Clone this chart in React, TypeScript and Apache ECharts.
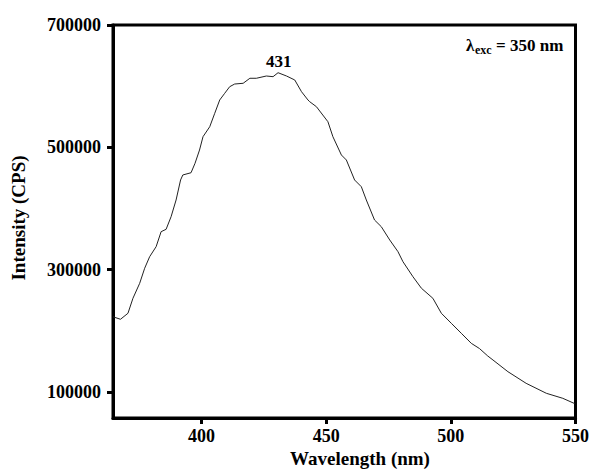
import React, { useEffect, useRef } from "react";
import * as echarts from "echarts";

const wavelengths = [
  364.5, 367.5, 370.5, 372.5, 375.2, 377.2, 379.2, 381.8, 383.8, 385.8, 387.8, 389.8,
  391.6, 392.5, 395.8, 397.4, 399.2, 400.6, 403.3, 405.3, 407.3, 409.3, 411.3, 413.3,
  416.7, 419.4, 422.0, 426.0, 428.7, 430.7, 434.1, 437.4, 440.1, 442.7, 443.4, 446.1,
  450.7, 452.7, 456.1, 458.1, 461.4, 464.1, 466.1, 469.4, 472.1, 475.5, 478.8, 480.8,
  484.8, 488.2, 492.8, 496.2, 500.2, 504.2, 508.2, 511.5, 514.8, 516.9, 522.9, 530.2,
  538.3, 544.9, 549.6,
];
const intensities = [
  223000, 218900, 228700, 253200, 277700, 302300, 321200, 337600, 362100, 366000, 386600, 413900,
  446600, 454800, 458500, 473900, 495600, 517400, 533700, 555600, 577400, 588300, 599100, 603500,
  604700, 612900, 612900, 616600, 615500, 622000, 616600, 610100, 591000, 577400, 574600, 566400,
  541900, 517400, 487500, 479300, 446600, 435600, 413900, 381200, 370300, 348500, 329400, 313000,
  288500, 269600, 253200, 228700, 212300, 196000, 179600, 171000, 158900, 152300, 133200, 114200,
  97900, 89700, 81200,
];
const xTicks = [400, 450, 500, 550];
const yTicks = [100000, 300000, 500000, 700000];
const peakLabel = "431";
const peakPoint = [431, 622000];

const FONT = "Liberation Serif";

export default function App() {
  const ref = useRef<HTMLDivElement>(null);
  useEffect(() => {
    if (!ref.current) return;
    const chart = echarts.init(ref.current, null, { renderer: "svg" });
    const data = wavelengths.map((w, i) => [w, intensities[i]]);
    chart.setOption({
      animation: false,
      backgroundColor: "#fff",
      grid: {
        left: 113,
        top: 25,
        right: 15,
        bottom: 51,
        show: true,
        borderColor: "#000",
        borderWidth: 3,
        backgroundColor: "transparent",
      },
      xAxis: {
        type: "value",
        min: 364.5,
        max: 550,
        axisLine: { show: true, lineStyle: { color: "#000", width: 3 } },
        axisTick: { show: true, customValues: xTicks, length: 6, lineStyle: { color: "#000", width: 3 } },
        axisLabel: {
          customValues: xTicks,
          formatter: (v: number) => String(v),
          margin: 9,
          fontFamily: FONT,
          fontWeight: "bold",
          fontSize: 18,
          color: "#000",
        },
        splitLine: { show: false },
      },
      yAxis: {
        type: "value",
        min: 57500,
        max: 700000,
        axisLine: { show: true, lineStyle: { color: "#000", width: 3 } },
        axisTick: { show: true, customValues: yTicks, length: 6, lineStyle: { color: "#000", width: 3 } },
        axisLabel: {
          customValues: yTicks,
          formatter: (v: number) => String(v),
          margin: 12,
          fontFamily: FONT,
          fontWeight: "bold",
          fontSize: 18,
          color: "#000",
        },
        splitLine: { show: false },
      },
      series: [
        {
          type: "line",
          data,
          showSymbol: false,
          symbol: "none",
          lineStyle: { color: "#222", width: 1 },
          markPoint: {
            symbol: "circle",
            symbolSize: 0,
            data: [{ coord: peakPoint }],
            label: {
              show: true,
              formatter: peakLabel,
              position: "top",
              distance: 3,
              fontFamily: FONT,
              fontWeight: "bold",
              fontSize: 17,
              color: "#000",
            },
          },
        },
      ],
      graphic: [
        {
          type: "text",
          x: 360,
          y: 458,
          style: {
            text: "Wavelength (nm)",
            fontFamily: FONT,
            fontWeight: "bold",
            fontSize: 19,
            fill: "#000",
            align: "center",
            verticalAlign: "middle",
          },
        },
        {
          type: "text",
          x: 18,
          y: 218,
          rotation: Math.PI / 2,
          style: {
            text: "Intensity (CPS)",
            fontFamily: FONT,
            fontWeight: "bold",
            fontSize: 19,
            fill: "#000",
            align: "center",
            verticalAlign: "middle",
          },
        },
        {
          type: "group",
          x: 466,
          y: 45,
          children: [
            {
              type: "text",
              x: 0,
              y: 0,
              style: { text: "λ", fontFamily: FONT, fontWeight: "bold", fontSize: 17, fill: "#000", verticalAlign: "middle" },
            },
            {
              type: "text",
              x: 9,
              y: 5,
              style: { text: "exc", fontFamily: FONT, fontWeight: "bold", fontSize: 12, fill: "#000", verticalAlign: "middle" },
            },
            {
              type: "text",
              x: 30,
              y: 0,
              style: { text: "= 350 nm", fontFamily: FONT, fontWeight: "bold", fontSize: 17, fill: "#000", verticalAlign: "middle" },
            },
          ],
        },
      ],
    });
    return () => chart.dispose();
  }, []);
  return <div ref={ref} style={{ position: "fixed", left: 0, top: 0, width: 592, height: 469 }} />;
}
